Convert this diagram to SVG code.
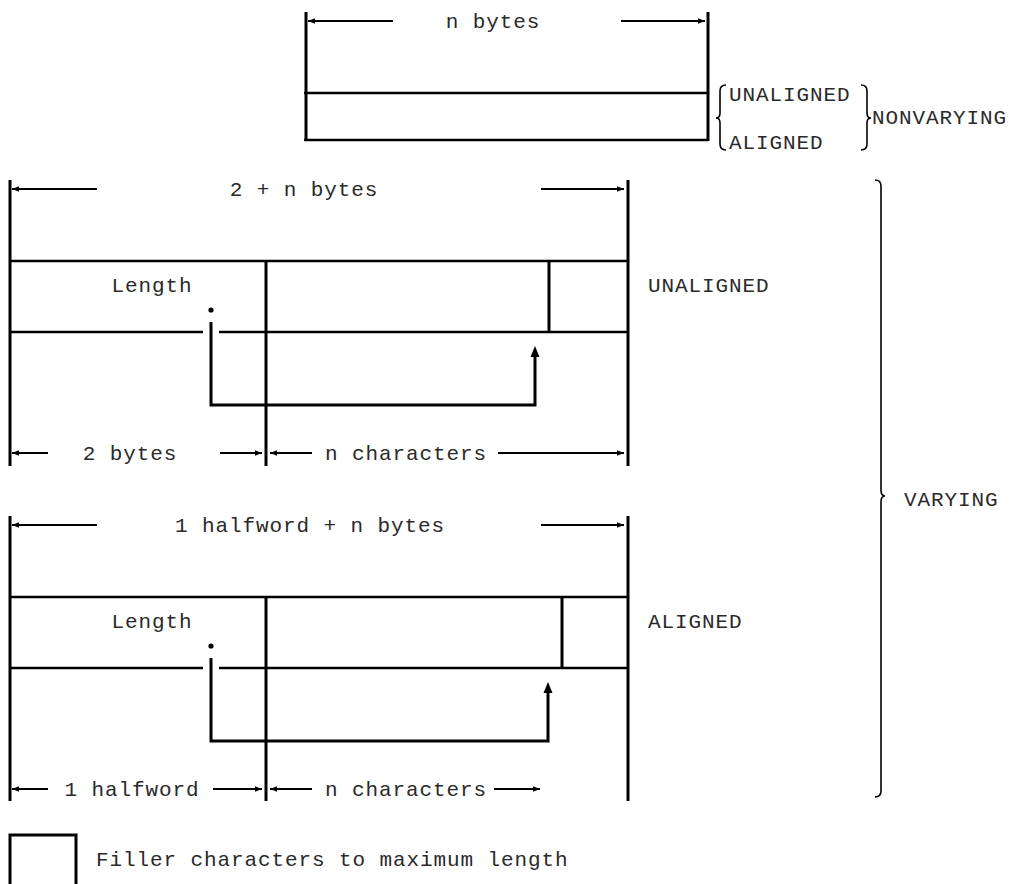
<svg xmlns="http://www.w3.org/2000/svg" width="1013" height="884" viewBox="0 0 1013 884">
  <style>
    text { font-family: "Liberation Mono", "Courier New", monospace; font-size: 21px; letter-spacing: 0.9px; fill: #2a2a2a; }
    .frame { stroke: #000; stroke-width: 3; fill: none; stroke-linecap: butt; }
    .rule { stroke: #000; stroke-width: 2.4; fill: none; }
    .dim { stroke: #000; stroke-width: 1.8; fill: none; }
    .link { stroke: #000; stroke-width: 3; fill: none; }
    .brace { stroke: #000; stroke-width: 1.6; fill: none; }
  </style>
  <defs>
    <marker id="ah" viewBox="0 0 10 10" refX="10" refY="5" markerWidth="9" markerHeight="7" orient="auto" markerUnits="userSpaceOnUse">
      <path d="M0,1 L10,5 L0,9 Z" fill="#000"/>
    </marker>
  </defs>

  <!-- Nonvarying string -->
  <g id="nonvarying">
    <line class="frame" x1="306" y1="12" x2="306" y2="141"/>
    <line class="frame" x1="708" y1="12" x2="708" y2="141"/>
    <line class="rule" x1="304" y1="93" x2="708" y2="93"/>
    <line class="rule" x1="304" y1="140" x2="708" y2="140"/>
    <line class="dim" x1="393" y1="21" x2="308" y2="21" marker-end="url(#ah)"/>
    <line class="dim" x1="621" y1="21" x2="705" y2="21" marker-end="url(#ah)"/>
    <text x="493" y="28" text-anchor="middle">n bytes</text>
    <path class="brace" d="M726,85 Q720,85 720,91 L720,113 Q720,118 716,118 Q720,118 720,123 L720,144 Q720,150 726,150"/>
    <text x="729" y="101">UNALIGNED</text>
    <text x="729" y="149">ALIGNED</text>
    <path class="brace" d="M861,85 Q867,85 867,91 L867,113 Q867,118 871,118 Q867,118 867,123 L867,144 Q867,150 861,150"/>
    <text x="872" y="124">NONVARYING</text>
  </g>

  <!-- Varying, unaligned -->
  <g id="varying-unaligned">
    <line class="frame" x1="10" y1="180" x2="10" y2="466"/>
    <line class="frame" x1="628" y1="180" x2="628" y2="466"/>
    <line class="dim" x1="97" y1="189" x2="12" y2="189" marker-end="url(#ah)"/>
    <line class="dim" x1="541" y1="189" x2="624" y2="189" marker-end="url(#ah)"/>
    <text x="304" y="196" text-anchor="middle">2 + n bytes</text>
    <line class="rule" x1="10" y1="261" x2="628" y2="261"/>
    <line class="rule" x1="10" y1="332" x2="203" y2="332"/>
    <line class="rule" x1="219" y1="332" x2="628" y2="332"/>
    <line class="frame" x1="266" y1="261" x2="266" y2="466"/>
    <line class="frame" x1="549" y1="261" x2="549" y2="332"/>
    <text x="152" y="292" text-anchor="middle">Length</text>
    <circle cx="211" cy="310" r="2.6" fill="#000"/>
    <line class="dim" x1="48" y1="453" x2="12" y2="453" marker-end="url(#ah)"/>
    <text x="130" y="460" text-anchor="middle">2 bytes</text>
    <line class="dim" x1="220" y1="453" x2="262" y2="453" marker-end="url(#ah)"/>
    <line class="dim" x1="312" y1="453" x2="270" y2="453" marker-end="url(#ah)"/>
    <text x="406" y="460" text-anchor="middle">n characters</text>
    <line class="dim" x1="498" y1="453" x2="624" y2="453" marker-end="url(#ah)"/>
    <text x="648" y="292">UNALIGNED</text>
  </g>

  <!-- Varying, aligned -->
  <g id="varying-aligned">
    <line class="frame" x1="10" y1="516" x2="10" y2="801"/>
    <line class="frame" x1="628" y1="516" x2="628" y2="801"/>
    <line class="dim" x1="97" y1="525" x2="12" y2="525" marker-end="url(#ah)"/>
    <line class="dim" x1="541" y1="525" x2="624" y2="525" marker-end="url(#ah)"/>
    <text x="310" y="532" text-anchor="middle">1 halfword + n bytes</text>
    <line class="rule" x1="10" y1="597" x2="628" y2="597"/>
    <line class="rule" x1="10" y1="668" x2="203" y2="668"/>
    <line class="rule" x1="219" y1="668" x2="628" y2="668"/>
    <line class="frame" x1="266" y1="597" x2="266" y2="801"/>
    <line class="frame" x1="562" y1="597" x2="562" y2="668"/>
    <text x="152" y="628" text-anchor="middle">Length</text>
    <circle cx="211" cy="646" r="2.6" fill="#000"/>
    <line class="dim" x1="48" y1="789" x2="12" y2="789" marker-end="url(#ah)"/>
    <text x="132" y="796" text-anchor="middle">1 halfword</text>
    <line class="dim" x1="213" y1="789" x2="262" y2="789" marker-end="url(#ah)"/>
    <line class="dim" x1="312" y1="789" x2="270" y2="789" marker-end="url(#ah)"/>
    <text x="406" y="796" text-anchor="middle">n characters</text>
    <line class="dim" x1="494" y1="789" x2="540" y2="789" marker-end="url(#ah)"/>
    <text x="648" y="628">ALIGNED</text>
  </g>

  <!-- Varying brace -->
  <g id="varying-brace">
    <path class="brace" d="M875,180 Q881,180 881,186 L881,490 Q881,496 885,496 Q881,496 881,502 L881,791 Q881,797 875,797"/>
    <text x="904" y="506">VARYING</text>
  </g>

  <!-- Legend -->
  <g id="legend">
    <path class="frame" d="M10,884 L10,835 L76,835 L76,884"/>
    <text x="96" y="866">Filler characters to maximum length</text>
  </g>

  <!-- Length-field references -->
  <g id="connectors">
    <path class="link" d="M211,322 L211,405 L535,405 L535,354"/>
    <path d="M535,346 L530.5,357 L539.5,357 Z" fill="#000"/>
    <path class="link" d="M211,658 L211,741 L548,741 L548,690"/>
    <path d="M548,682 L543.5,693 L552.5,693 Z" fill="#000"/>
  </g>
</svg>
